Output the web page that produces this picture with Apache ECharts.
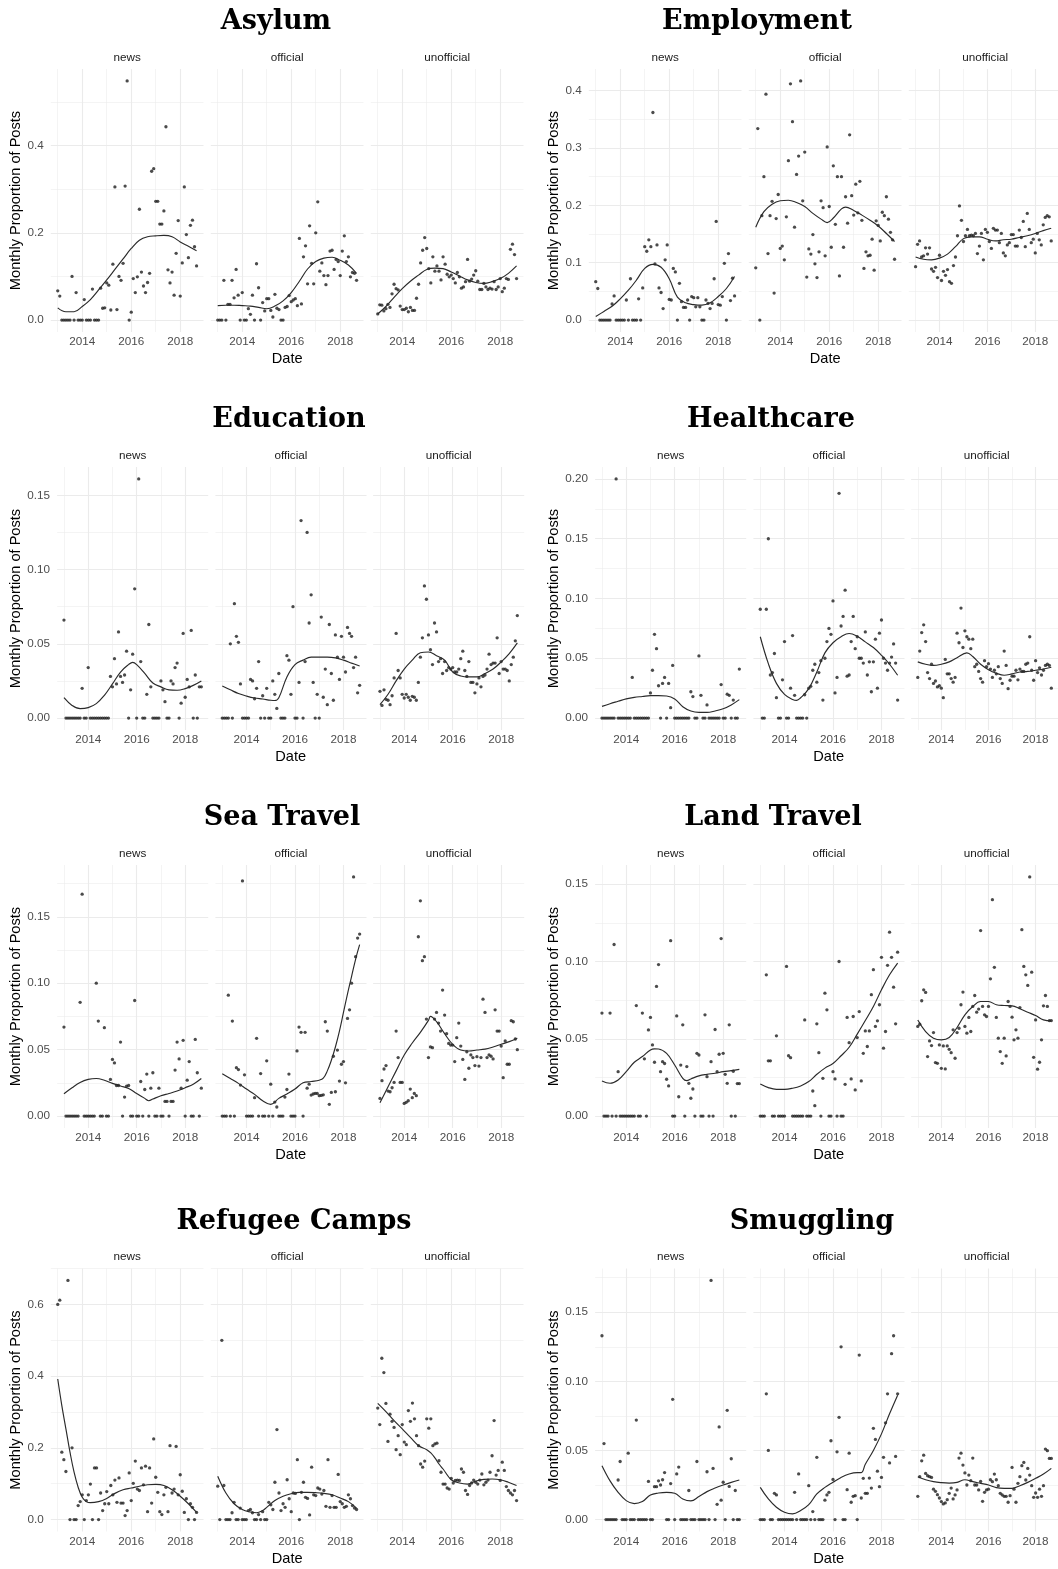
<!DOCTYPE html>
<html><head><meta charset="utf-8">
<script src="https://cdn.jsdelivr.net/npm/echarts@6/dist/echarts.min.js"></script>
<style>html,body{margin:0;padding:0;background:#fff}#c{width:1058px;height:1569px}</style>
</head><body><div id="c"></div><script>
// ---- DATA: monthly proportions, Jan 2013 .. Sep 2018 (69 months) ----
const firstYear = 2013;
const facetNames = ['news', 'official', 'unofficial'];
const panelTitles = ['Asylum', 'Employment', 'Education', 'Healthcare', 'Sea Travel', 'Land Travel', 'Refugee Camps', 'Smuggling'];
const xTicks = [2014, 2016, 2018];
const xMinorTicks = [2013, 2015, 2017];

const asylumTicks = [0, 0.2, 0.4];
const employmentTicks = [0, 0.1, 0.2, 0.3, 0.4];
const educationTicks = [0, 0.05, 0.10, 0.15];
const healthcareTicks = [0, 0.05, 0.10, 0.15, 0.20];
const seaTicks = [0, 0.05, 0.10, 0.15];
const landTicks = [0, 0.05, 0.10, 0.15];
const refugeeTicks = [0, 0.2, 0.4, 0.6];
const smugglingTicks = [0, 0.05, 0.10, 0.15];

const asylumNews = [0.067,0.055,0,0,0,0,0,0.100,0,0.063,0,0,
 0,0.047,0,0,0,0.071,0,0,0,0.073,0.027,0.028,
 0.085,0.080,0.023,0.128,0.305,0.024,0.100,0.091,0.130,0.307,0.548,0,
 0.018,0.095,0.063,0.099,0.254,0.110,0.078,0.063,0.086,0.107,0.341,0.347,
 0.272,0.272,0.220,0.220,0.250,0.443,0.115,0.085,0.110,0.057,0.153,0.228,
 0.055,0.131,0.305,0.196,0.143,0.217,0.229,0.168,0.124];
const asylumOfficial = [0,0,0,0.091,0,0.036,0.036,0.091,0.051,0.116,0.057,0,
 0.063,0,0,0.026,0.013,0.057,0,0.129,0.074,0,0.040,0.021,
 0.049,0.049,0.022,0.007,0.059,0.027,0.024,0,0,0.029,0.031,0.056,
 0.042,0.046,0.049,0.033,0.187,0.037,0.145,0.170,0.083,0.216,0.130,0.083,
 0.200,0.271,0.112,0.131,0.102,0.081,0.102,0.158,0.160,0.116,0.139,0.134,
 0.102,0.158,0.193,0.134,0.145,0.099,0.109,0.107,0.091];
const asylumUnofficial = [0.014,0.035,0.034,0.021,0.026,0.036,0.029,0.060,0.082,0.072,0.069,0.032,
 0.024,0.024,0.027,0.019,0.029,0.022,0.022,0.050,0.082,0.131,0.160,0.189,
 0.164,0.118,0.085,0.145,0.112,0.124,0.112,0.092,0.145,0.128,0.105,0.099,
 0.103,0.095,0.085,0.109,0.099,0.073,0.076,0.088,0.139,0.089,0.094,0.103,
 0.113,0.089,0.070,0.070,0.084,0.076,0.070,0.073,0.071,0.088,0.070,0.076,
 0.095,0.065,0.073,0.095,0.093,0.162,0.174,0.150,0.095];
// fitted trend lines: [monthIndex, value]
const asylumNewsFit = [[0,0.028],[4,0.019],[8,0.019],[12,0.031],[16,0.047],[20,0.069],[24,0.092],[28,0.116],[32,0.140],[36,0.164],[40,0.183],[44,0.191],[48,0.193],[52,0.194],[56,0.191],[60,0.179],[64,0.169],[68,0.159]];
const asylumOfficialFit = [[0,0.033],[4,0.034],[8,0.034],[12,0.033],[16,0.032],[20,0.029],[24,0.026],[28,0.032],[32,0.044],[36,0.063],[40,0.089],[44,0.117],[48,0.134],[52,0.142],[56,0.144],[60,0.137],[64,0.126],[68,0.107]];
const asylumUnofficialFit = [[0,0.014],[4,0.031],[8,0.052],[12,0.072],[16,0.089],[20,0.103],[24,0.116],[28,0.119],[32,0.118],[36,0.110],[40,0.101],[44,0.092],[48,0.086],[52,0.084],[56,0.088],[60,0.095],[64,0.107],[68,0.124]];

const employmentNews = [0.067,0.055,0,0,0,0,0,0,0.028,0.042,0,0,
 0,0,0,0.035,0,0.072,0,0,0,0.037,0,0.056,
 0.128,0.120,0.140,0.128,0.362,0.098,0.131,0.056,0.048,0.020,0.105,0.131,
 0.036,0.035,0.090,0.084,0,0.064,0.032,0.022,0.022,0.035,0,0.041,
 0.039,0.023,0.039,0.023,0,0,0.035,0.029,0.020,0.029,0.072,0.172,
 0.027,0.026,0.041,0.099,0,0.116,0.034,0.073,0.042];
const employmentOfficial = [0.091,0.334,0,0.182,0.250,0.394,0.116,0.182,0.207,0.047,0.177,0.219,
 0.125,0.129,0.105,0.180,0.278,0.412,0.346,0.162,0.254,0.286,0.417,0.208,
 0.293,0.075,0.124,0.115,0.149,0.098,0.074,0.119,0.208,0.196,0.112,0.302,
 0.198,0.127,0.269,0.167,0.250,0.077,0.250,0.127,0.215,0.169,0.323,0.217,
 0.183,0.237,0.187,0.242,0.174,0.090,0.119,0.112,0.113,0.141,0.087,0.173,
 0.165,0.138,0.188,0.182,0.215,0.176,0.153,0.140,0.106];
const employmentUnofficial = [0.093,0.132,0.138,0.110,0.112,0.126,0.115,0.126,0.089,0.085,0.092,0.074,
 0.113,0.069,0.085,0.078,0.088,0.067,0.064,0.095,0.110,0.147,0.199,0.174,
 0.137,0.147,0.158,0.147,0.148,0.147,0.151,0.116,0.129,0.151,0.105,0.158,
 0.153,0.137,0.125,0.160,0.157,0.157,0.135,0.151,0.117,0.112,0.131,0.135,
 0.149,0.149,0.129,0.129,0.157,0.144,0.172,0.128,0.186,0.158,0.135,0.141,
 0.117,0.151,0.140,0.131,0.166,0.179,0.182,0.180,0.138];
const employmentNewsFit = [[0,0.006],[4,0.015],[8,0.024],[12,0.037],[16,0.052],[20,0.070],[24,0.090],[28,0.097],[32,0.092],[36,0.072],[40,0.040],[44,0.030],[48,0.027],[52,0.026],[56,0.030],[60,0.041],[64,0.055],[68,0.076]];
const employmentOfficialFit = [[0,0.162],[4,0.189],[8,0.202],[12,0.208],[16,0.209],[20,0.205],[24,0.198],[28,0.186],[32,0.176],[35,0.170],[38,0.178],[42,0.194],[44,0.197],[48,0.191],[52,0.183],[56,0.174],[60,0.164],[64,0.151],[68,0.137]];
const employmentUnofficialFit = [[0,0.110],[4,0.106],[8,0.105],[12,0.108],[16,0.115],[20,0.128],[24,0.142],[28,0.145],[32,0.145],[36,0.141],[40,0.138],[44,0.140],[48,0.141],[52,0.144],[56,0.147],[60,0.151],[64,0.156],[68,0.160]];

const educationNews = [0.066,0,0,0,0,0,0,0,0,0.020,0,0,
 0.034,0,0,0,0,0,0,0,0,0,0,0.028,
 0.021,0.040,0.023,0.058,0.028,0.024,0.029,0.045,0,0.019,0.043,0.087,
 0,0.161,0.038,0,0,0.016,0.063,0.021,0,0,0,0,
 0.025,0.019,0.011,0,0,0.025,0.023,0.034,0.037,0,0.010,0.057,
 0.014,0.026,0.021,0.059,0,0.029,0,0.021,0.021];
const educationOfficial = [0,0,0,0,0.050,0,0.077,0.055,0.051,0.023,0,0,
 0,0,0.026,0.025,0.013,0.020,0.038,0,0.015,0,0.020,0,
 0,0.025,0.016,0.0065,0.030,0,0,0,0.042,0.039,0.016,0.075,
 0,0,0.024,0.133,0,0.038,0.125,0.064,0.083,0.024,0,0.016,
 0,0.068,0.014,0.033,0.009,0.063,0.030,0.012,0.056,0.041,0.026,0.055,
 0.041,0.031,0.061,0.057,0.055,0.034,0.041,0.017,0.022];
const educationUnofficial = [0.018,0.0085,0.019,0.0126,0.012,0.009,0.015,0.027,0.057,0.032,0.027,0.016,
 0.0135,0.016,0.014,0.012,0.0146,0.014,0.012,0.024,0.041,0.054,0.089,0.080,
 0.056,0.046,0.036,0.064,0.058,0.038,0.040,0.030,0.038,0.032,0.034,0.033,
 0.034,0.031,0.031,0.033,0.040,0.045,0.032,0.028,0.038,0.024,0.024,0.017,
 0.023,0.027,0.021,0.028,0.029,0.033,0.043,0.036,0.037,0.037,0.054,0.030,
 0.038,0.033,0.033,0.032,0.025,0.036,0.041,0.052,0.069];
const educationNewsFit = [[0,0.0137],[4,0.0085],[8,0.0063],[12,0.007],[16,0.0097],[20,0.0153],[24,0.023],[28,0.031],[32,0.036],[34,0.0375],[36,0.036],[40,0.030],[44,0.0236],[48,0.021],[52,0.019],[56,0.0187],[60,0.0198],[64,0.022],[68,0.025]];
const educationOfficialFit = [[0,0.0216],[4,0.019],[8,0.0165],[12,0.0148],[16,0.0135],[20,0.0128],[24,0.012],[26,0.0118],[28,0.0137],[32,0.0277],[36,0.036],[40,0.039],[44,0.041],[48,0.041],[52,0.041],[56,0.0405],[60,0.039],[64,0.037],[68,0.035]];
const educationUnofficialFit = [[0,0.009],[4,0.016],[8,0.025],[12,0.033],[16,0.039],[20,0.044],[24,0.0445],[28,0.042],[32,0.039],[36,0.031],[40,0.0283],[44,0.0277],[48,0.0277],[52,0.030],[56,0.033],[60,0.0378],[64,0.0434],[68,0.0506]];

const healthcareNews = [0,0,0,0,0,0,0,0.200,0,0,0,0,
 0,0,0,0.034,0,0,0,0,0,0,0,0,
 0.021,0.040,0.070,0.058,0.027,0,0.029,0.034,0,0.029,0.0087,0.044,
 0,0,0,0,0,0,0,0,0.022,0.018,0,0,
 0.052,0.019,0,0,0.011,0,0,0,0,0,0,0.028,
 0,0,0.020,0.019,0,0.015,0,0,0.041];
const healthcareOfficial = [0.091,0,0,0.091,0.150,0.036,0.038,0.054,0.017,0,0,0.032,
 0.064,0,0,0.025,0.069,0.019,0,0,0,0,0.0195,0,
 0.025,0.0265,0.040,0.045,0.030,0.038,0.048,0.015,0.050,0.064,0.075,0.070,
 0.098,0.021,0.034,0.188,0.077,0.085,0.107,0.035,0.036,0.064,0.085,0.058,
 0.068,0.050,0.050,0.046,0.072,0.036,0.047,0.022,0.047,0.066,0.025,0.071,
 0.082,0.050,0.046,0.040,0.046,0.051,0.062,0.046,0.015];
const healthcareUnofficial = [0.034,0.056,0.0715,0.078,0.064,0.038,0.033,0.045,0.029,0.031,0.026,0.027,
 0.025,0.017,0.049,0.037,0.037,0.033,0.030,0.034,0.071,0.063,0.092,0.059,
 0.073,0.068,0.066,0.058,0.066,0.043,0.045,0.039,0.033,0.030,0.048,0.043,
 0.0455,0.041,0.034,0.040,0.037,0.043,0.033,0.029,0.056,0.044,0.0246,0.0316,
 0.035,0.035,0.040,0.032,0.041,0.039,0.039,0.045,0.046,0.068,0.040,0.0316,
 0.048,0.038,0.042,0.036,0.040,0.044,0.045,0.044,0.025];
const healthcareNewsFit = [[0,0.0098],[4,0.012],[8,0.014],[12,0.016],[16,0.0173],[20,0.018],[24,0.0187],[28,0.0187],[32,0.0184],[36,0.016],[40,0.0095],[44,0.0059],[48,0.0047],[52,0.0047],[56,0.0059],[60,0.0078],[64,0.011],[68,0.0154]];
const healthcareOfficialFit = [[0,0.068],[4,0.0455],[8,0.029],[12,0.0198],[16,0.0156],[18,0.0148],[20,0.017],[24,0.0246],[28,0.0385],[32,0.0545],[36,0.063],[40,0.068],[44,0.0707],[48,0.0684],[52,0.0637],[56,0.059],[60,0.0525],[64,0.045],[68,0.0358]];
const healthcareUnofficialFit = [[0,0.047],[4,0.045],[8,0.044],[12,0.045],[16,0.047],[20,0.0505],[25,0.0545],[28,0.0515],[32,0.045],[36,0.0405],[40,0.0375],[44,0.0358],[48,0.037],[52,0.0385],[56,0.039],[60,0.040],[64,0.041],[68,0.0425]];

const seaNews = [0.067,0,0,0,0,0,0,0,0.0856,0.167,0,0,
 0,0,0,0,0.100,0.0715,0,0,0.0665,0,0,0.0276,
 0.0426,0.040,0.023,0.023,0.0557,0,0.0143,0.0226,0.023,0,0,0.087,
 0,0,0.026,0,0.020,0.0316,0,0.021,0.0326,0,0,0.021,
 0,0,0.011,0.011,0,0.011,0.011,0.0346,0.0557,0.043,0.021,0.057,
 0,0.027,0.041,0,0,0.0577,0.0326,0,0.021];
const seaOfficial = [0,0,0,0.091,0,0.0715,0,0.0364,0.035,0.0233,0.177,0.031,
 0,0,0,0,0.0138,0.0585,0,0.032,0,0,0.0416,0,
 0.024,0,0.0105,0.0068,0,0,0,0.0143,0.020,0.0316,0,0,
 0,0.049,0.067,0.063,0,0.063,0.021,0.024,0.0158,0.0166,0.017,0.017,
 0.0153,0.0155,0.016,0.071,0.064,0.0088,0.0178,0.045,0.0183,0.0497,0.0263,0.039,
 0.041,0.025,0.0735,0.080,0.100,0.180,0.120,0.134,0.137];
const seaUnofficial = [0.0133,0.0266,0.0354,0.038,0.0188,0.0183,0.0213,0.0253,0.064,0.044,0.0253,0.0253,
 0.0095,0.0103,0.0115,0.0203,0.0138,0.017,0.0153,0.135,0.162,0.117,0.120,0.073,
 0.044,0.052,0.0515,0.073,0.078,0.070,0.064,0.0948,0.076,0.062,0.0547,0.0534,
 0.0534,0.041,0.059,0.070,0.0527,0.0426,0.0276,0.0484,0.036,0.046,0.044,0.038,
 0.0447,0.0376,0.044,0.088,0.078,0.044,0.046,0.045,0.043,0.080,0.064,0.064,
 0.0527,0.0289,0.0565,0.039,0.039,0.0718,0.071,0.058,0.050];
const seaNewsFit = [[0,0.0168],[4,0.0213],[8,0.0253],[12,0.0276],[16,0.0283],[20,0.027],[24,0.0246],[28,0.0226],[32,0.0208],[36,0.017],[40,0.0133],[42,0.0115],[44,0.0128],[48,0.0153],[52,0.017],[56,0.0188],[60,0.0213],[64,0.024],[68,0.0283]];
const seaOfficialFit = [[0,0.0319],[4,0.0283],[8,0.0246],[12,0.0203],[16,0.0163],[20,0.0115],[24,0.0088],[28,0.0133],[32,0.0166],[36,0.0203],[40,0.025],[44,0.026],[48,0.027],[50,0.0285],[52,0.034],[54,0.042],[56,0.052],[58,0.064],[60,0.078],[62,0.092],[64,0.105],[66,0.118],[68,0.129]];
const seaUnofficialFit = [[0,0.010],[4,0.022],[8,0.034],[12,0.046],[16,0.055],[20,0.063],[24,0.072],[25,0.075],[28,0.071],[32,0.062],[36,0.054],[40,0.0497],[44,0.049],[48,0.0497],[52,0.0504],[56,0.052],[60,0.054],[64,0.056],[68,0.0585]];

const landNews = [0.0666,0,0,0,0.0666,0,0.111,0,0.0287,0,0,0,
 0,0,0,0,0,0.0715,0,0,0.0666,0.037,0,0.0557,
 0.0638,0.046,0.0348,0.0839,0.098,0.0287,0.0352,0.034,0.0238,0.0195,0.1135,0,
 0,0.0648,0.0125,0.033,0.059,0,0.032,0.0212,0.0115,0.0175,0,0.0406,
 0.0395,0,0,0.0655,0.0255,0,0.0352,0,0.056,0.0287,0.040,0.1148,
 0.0406,0.027,0.0212,0.059,0,0.029,0,0.021,0.021];
const landOfficial = [0,0,0,0.0914,0.0357,0.0357,0,0,0.0519,0,0,0,
 0,0.0968,0.039,0.0378,0,0,0,0,0,0,0.0622,0,
 0,0,0.0162,0.0067,0.0597,0.041,0,0.0244,0.0795,0.0687,0,0,
 0.0287,0.024,0,0.100,0,0,0.0205,0.0638,0.0475,0.024,0.0644,0.0169,
 0.0508,0.0676,0.0227,0.0406,0.0551,0.045,0.0551,0.0785,0.0947,0.058,0.0616,0.072,
 0.1027,0.0439,0.0547,0.0975,0.119,0.1027,0.0834,0.0597,0.106];
const landUnofficial = [0.058,0.0594,0.0746,0.0817,0.080,0.0385,0.0486,0.0456,0.054,0.0346,0.0341,0.046,
 0.0309,0.0454,0.0305,0.0454,0.0432,0.041,0.0558,0.0374,0.054,0.0568,0.072,0.0802,
 0.058,0.0536,0.0638,0.0547,0.0709,0.078,0.0672,0.0692,0.120,0.0709,0.0655,0.0644,
 0.0709,0.0888,0.140,0.0962,0.0638,0.0504,0.0417,0.0341,0.0504,0.0389,0.0741,0.0709,
 0.064,0.0493,0.0558,0.0504,0.0702,0.1206,0.0968,0.0914,0.0845,0.1547,0.0931,0.038,
 0.0622,0.0303,0.0348,0.0493,0.0713,0.078,0.0709,0.0618,0.0618];
const landNewsFit = [[0,0.0227],[4,0.0212],[8,0.0233],[12,0.0287],[16,0.0348],[20,0.0385],[24,0.0428],[26,0.0435],[28,0.0434],[32,0.0405],[36,0.033],[40,0.0244],[42,0.0229],[44,0.024],[48,0.026],[52,0.027],[56,0.0277],[60,0.0287],[64,0.0294],[68,0.0302]];
const landOfficialFit = [[0,0.0207],[4,0.0184],[8,0.0173],[12,0.0173],[16,0.018],[20,0.0195],[24,0.0223],[28,0.027],[32,0.031],[36,0.034],[40,0.039],[44,0.0445],[48,0.053],[52,0.0618],[56,0.0709],[60,0.0817],[64,0.0914],[68,0.099]];
const landUnofficialFit = [[0,0.0622],[4,0.0547],[8,0.0504],[12,0.0493],[16,0.0508],[20,0.0573],[24,0.0655],[28,0.0709],[32,0.0741],[36,0.0741],[40,0.072],[44,0.0715],[48,0.0713],[52,0.0694],[56,0.0672],[60,0.065],[64,0.0622],[68,0.0616]];

const refugeeNews = [0.600,0.612,0.188,0.167,0.134,0.667,0,0.200,0,0,0.039,0.050,
 0.069,0,0.053,0.069,0.099,0,0.144,0.144,0,0.074,0.025,0.044,
 0.078,0.044,0.095,0.069,0.110,0.048,0.116,0.046,0.046,0.011,0.025,0.130,
 0.053,0.101,0.163,0.085,0.081,0.144,0.097,0.149,0.022,0.144,0.046,0.225,
 0.118,0.076,0.022,0.014,0.069,0.090,0.022,0.206,0.074,0.085,0.204,0.069,
 0.125,0.079,0.020,0.058,0,0.044,0.034,0,0.020];
const refugeeOfficial = [0.093,0,0.500,0.095,0,0,0,0.019,0.048,0,0,0.032,
 0,0,0,0.025,0.028,0.019,0,0,0.014,0,0.022,0,
 0,0.048,0.041,0.028,0.104,0.251,0.074,0.025,0.044,0.034,0.111,0.058,
 0.022,0.074,0.073,0.167,0,0.076,0.104,0.062,0.059,0.013,0.146,0.069,
 0.067,0.088,0.085,0.071,0.081,0.037,0.167,0.034,0.067,0.034,0.034,0.126,
 0.050,0.044,0.034,0.037,0.069,0.058,0.039,0.032,0.028];
const refugeeUnofficial = [0.311,0.265,0.450,0.410,0.324,0.218,0.294,0.274,0.257,0.195,0.234,0.181,
 0.265,0.216,0.209,0.304,0.274,0.325,0.281,0.234,0.206,0.155,0.146,0.163,
 0.281,0.255,0.281,0.206,0.211,0.213,0.164,0.132,0.099,0.099,0.088,0.085,
 0.115,0.102,0.109,0.110,0.109,0.141,0.132,0.081,0.070,0.095,0.102,0.110,
 0.104,0.099,0.110,0.127,0.097,0.104,0.110,0.132,0.178,0.276,0.124,0.137,
 0.109,0.160,0.137,0.092,0.081,0.074,0.069,0.081,0.053];
const refugeeNewsFit = [[0,0.392],[2,0.318],[4,0.253],[6,0.188],[8,0.132],[10,0.090],[12,0.062],[14,0.050],[16,0.047],[20,0.050],[24,0.059],[28,0.073],[32,0.083],[36,0.088],[40,0.093],[44,0.097],[48,0.098],[52,0.095],[56,0.083],[60,0.065],[64,0.044],[68,0.020]];
const refugeeOfficialFit = [[0,0.121],[4,0.074],[8,0.044],[12,0.028],[16,0.021],[19,0.019],[22,0.025],[24,0.034],[28,0.053],[32,0.065],[36,0.072],[40,0.076],[44,0.076],[48,0.075],[52,0.073],[56,0.069],[60,0.060],[64,0.050],[68,0.032]];
const refugeeUnofficialFit = [[0,0.324],[4,0.301],[8,0.276],[12,0.253],[16,0.229],[20,0.206],[24,0.195],[26,0.186],[28,0.172],[30,0.155],[32,0.141],[36,0.111],[40,0.102],[44,0.099],[48,0.107],[52,0.112],[56,0.113],[60,0.111],[64,0.104],[68,0.095]];

const smugglingNews = [0.133,0.055,0,0,0,0,0,0,0.0286,0.042,0,0,
 0,0.048,0,0,0,0.072,0,0,0,0,0,0.0276,
 0,0,0.0238,0.0238,0.028,0.025,0.0288,0.034,0,0,0.026,0.087,
 0,0.033,0.038,0,0,0,0,0.021,0,0,0,0.042,
 0,0,0,0,0.0346,0,0.173,0.037,0,0.011,0.067,0.014,
 0.027,0,0.079,0.024,0.044,0,0.021,0,0];
const smugglingOfficial = [0,0,0,0.091,0.050,0,0,0.019,0.0178,0,0,0,
 0,0,0,0,0,0.0197,0,0.033,0,0,0,0,
 0.0245,0,0.0058,0,0.045,0,0,0,0.014,0.0178,0.0197,0.057,
 0.029,0,0.049,0.074,0.125,0,0,0.0216,0.048,0.0125,0.0168,0.0173,
 0,0.119,0.0156,0.0298,0.019,0.019,0.030,0.0228,0.066,0.058,0.035,0.0238,
 0.0305,0.045,0.070,0.091,0.041,0.120,0.133,0.0457,0.091];
const smugglingUnofficial = [0.0168,0.031,0.0425,0.0466,0.0334,0.0317,0.031,0.0305,0.022,0.0204,0.018,0.0156,
 0.013,0.0113,0.012,0.0144,0.019,0.0228,0.0149,0.0178,0.0214,0.0445,0.048,0.0394,
 0.0337,0.025,0.0322,0.0281,0.0445,0.025,0.025,0.0214,0.0276,0.0132,0.0197,0.0214,
 0.022,0.0288,0.0274,0.0329,0.0288,0.0245,0.019,0.0178,0.0168,0.0168,0.0125,0.0173,
 0.0377,0.022,0.0125,0.0262,0.031,0.039,0.0413,0.0286,0.037,0.0322,0.0245,0.0161,
 0.0192,0.0161,0.022,0.0168,0.0245,0.051,0.0498,0.0442,0.0442];
const smugglingNewsFit = [[0,0.039],[4,0.028],[8,0.0197],[12,0.0137],[16,0.0115],[20,0.013],[24,0.0178],[28,0.0192],[32,0.0197],[36,0.019],[40,0.0149],[44,0.0135],[48,0.0166],[52,0.0202],[56,0.0228],[60,0.025],[64,0.0269],[68,0.0286]];
const smugglingOfficialFit = [[0,0.0233],[4,0.0149],[8,0.0089],[12,0.0053],[16,0.0041],[20,0.0065],[24,0.0108],[28,0.0185],[32,0.0233],[36,0.027],[40,0.0305],[44,0.033],[48,0.034],[50,0.034],[52,0.040],[56,0.050],[60,0.062],[64,0.0765],[68,0.090]];
const smugglingUnofficialFit = [[0,0.031],[4,0.0288],[8,0.0274],[12,0.0267],[16,0.0264],[20,0.0269],[24,0.0288],[28,0.0274],[32,0.0262],[36,0.025],[40,0.0231],[44,0.0226],[48,0.0226],[52,0.0245],[56,0.0269],[60,0.0298],[64,0.0329],[68,0.037]];

// ---- assembly ----
const panels = [
  { facets: [[asylumNews, asylumNewsFit], [asylumOfficial, asylumOfficialFit], [asylumUnofficial, asylumUnofficialFit]], ticks: asylumTicks, dec: 1 },
  { facets: [[employmentNews, employmentNewsFit], [employmentOfficial, employmentOfficialFit], [employmentUnofficial, employmentUnofficialFit]], ticks: employmentTicks, dec: 1 },
  { facets: [[educationNews, educationNewsFit], [educationOfficial, educationOfficialFit], [educationUnofficial, educationUnofficialFit]], ticks: educationTicks, dec: 2 },
  { facets: [[healthcareNews, healthcareNewsFit], [healthcareOfficial, healthcareOfficialFit], [healthcareUnofficial, healthcareUnofficialFit]], ticks: healthcareTicks, dec: 2 },
  { facets: [[seaNews, seaNewsFit], [seaOfficial, seaOfficialFit], [seaUnofficial, seaUnofficialFit]], ticks: seaTicks, dec: 2 },
  { facets: [[landNews, landNewsFit], [landOfficial, landOfficialFit], [landUnofficial, landUnofficialFit]], ticks: landTicks, dec: 2 },
  { facets: [[refugeeNews, refugeeNewsFit], [refugeeOfficial, refugeeOfficialFit], [refugeeUnofficial, refugeeUnofficialFit]], ticks: refugeeTicks, dec: 1 },
  { facets: [[smugglingNews, smugglingNewsFit], [smugglingOfficial, smugglingOfficialFit], [smugglingUnofficial, smugglingUnofficialFit]], ticks: smugglingTicks, dec: 2 }
];

// ---- layout (style only) ----
const L = {
  rowTop: [69, 467, 865, 1268.5], plotH: 263, colOff: [0, 538],
  left1: [50.8, 210.8, 370.8], w1: 152.7,
  left2: [57.1, 215.4, 373.1], w2: 151.1,
  titleX: [276, 757, 289, 771, 282, 773, 294, 812]
};
const SANS = '"Liberation Sans", Arial, Helvetica, sans-serif';
const monthPos = i => firstYear + i / 12;
const lastMonth = asylumNews.length - 1;
const xSpan = lastMonth / 12;
const xMin = firstYear - 0.05 * xSpan, xMax = firstYear + xSpan * 1.05;

const grid = [], xAxis = [], yAxis = [], series = [], graphic = [];
function txt(x, y, text, o) {
  const st = Object.assign({ text, fill: o.fill || '#000', fontSize: o.size, fontFamily: o.family || SANS, fontWeight: o.weight || 'normal',
    align: 'center', verticalAlign: 'middle', textAlign: 'center', textVerticalAlign: 'middle' });
  graphic.push({ type: 'text', x, y, rotation: o.rot || 0, silent: true, style: st });
}

panels.forEach((p, k) => {
  const row = Math.floor(k / 2), col = k % 2;
  const top = L.rowTop[row], off = L.colOff[col];
  const lefts = p.dec === 1 ? L.left1 : L.left2;
  const w = p.dec === 1 ? L.w1 : L.w2;
  let maxV = 0;
  p.facets.forEach(f => f[0].forEach(v => { if (v > maxV) maxV = v; }));
  const yMin = -0.05 * maxV, yMax = 1.05 * maxV;
  const step = p.ticks[1] - p.ticks[0];
  const yMinor = p.ticks.map(t => +(t + step / 2).toFixed(6)).filter(v => v < yMax);
  p.facets.forEach((f, j) => {
    const gi = grid.length;
    const left = off + lefts[j];
    grid.push({ left, top, width: w, height: L.plotH });
    const xi = xAxis.length;
    xAxis.push({ gridIndex: gi, type: 'value', min: xMin, max: xMax, position: 'bottom',
      axisLine: { show: false }, axisTick: { show: false, customValues: xTicks },
      axisLabel: { show: true, customValues: xTicks, margin: 4, color: '#4d4d4d', fontSize: 11.7, fontFamily: SANS,
        formatter: v => String(Math.round(v)) },
      splitLine: { show: true, lineStyle: { color: '#ebebeb', width: 1.1 } } });
    xAxis.push({ gridIndex: gi, type: 'value', min: xMin, max: xMax, position: 'bottom',
      axisLine: { show: false }, axisTick: { show: false, customValues: xMinorTicks }, axisLabel: { show: false, customValues: xMinorTicks },
      splitLine: { show: true, lineStyle: { color: '#ebebeb', width: 0.55 } } });
    const yi = yAxis.length;
    yAxis.push({ gridIndex: gi, type: 'value', min: yMin, max: yMax, position: 'left',
      axisLine: { show: false }, axisTick: { show: false, customValues: p.ticks },
      axisLabel: { show: j === 0, customValues: p.ticks, margin: 7, color: '#4d4d4d', fontSize: 11.7, fontFamily: SANS,
        formatter: v => v.toFixed(p.dec) },
      splitLine: { show: true, lineStyle: { color: '#ebebeb', width: 1.1 } } });
    yAxis.push({ gridIndex: gi, type: 'value', min: yMin, max: yMax, position: 'left',
      axisLine: { show: false }, axisTick: { show: false, customValues: yMinor }, axisLabel: { show: false, customValues: yMinor },
      splitLine: { show: true, lineStyle: { color: '#ebebeb', width: 0.55 } } });
    series.push({ type: 'scatter', xAxisIndex: xi, yAxisIndex: yi, symbol: 'circle', symbolSize: 3.3, silent: true, z: 3,
      itemStyle: { color: '#1e1e1e', borderWidth: 0 }, data: f[0].map((v, i) => [monthPos(i), v]) });
    series.push({ type: 'line', xAxisIndex: xi, yAxisIndex: yi, smooth: 0.4, showSymbol: false, symbol: 'none', silent: true, z: 4,
      lineStyle: { color: '#2a2a2a', width: 1.15 }, data: f[1].map(d => [monthPos(d[0]), d[1]]) });
    txt(left + w / 2, top - 11.5, facetNames[j], { size: 11.7, fill: '#1a1a1a' });
  });
  // panel title and axis titles
  txt(L.titleX[k], top - 47, panelTitles[k], { size: 27, family: '"DejaVu Serif", serif', weight: 'bold' });
  txt(off + 16, top + L.plotH / 2, 'Monthly Proportion of Posts', { size: 14.6, rot: Math.PI / 2 });
  const plotL = off + lefts[0], plotR = off + lefts[2] + w;
  txt((plotL + plotR) / 2, top + 290, 'Date', { size: 14.6 });
});

const chart = echarts.init(document.getElementById('c'), null, { renderer: 'canvas' });
chart.setOption({ animation: false, backgroundColor: '#ffffff', grid, xAxis, yAxis, series, graphic });
</script></body></html>
